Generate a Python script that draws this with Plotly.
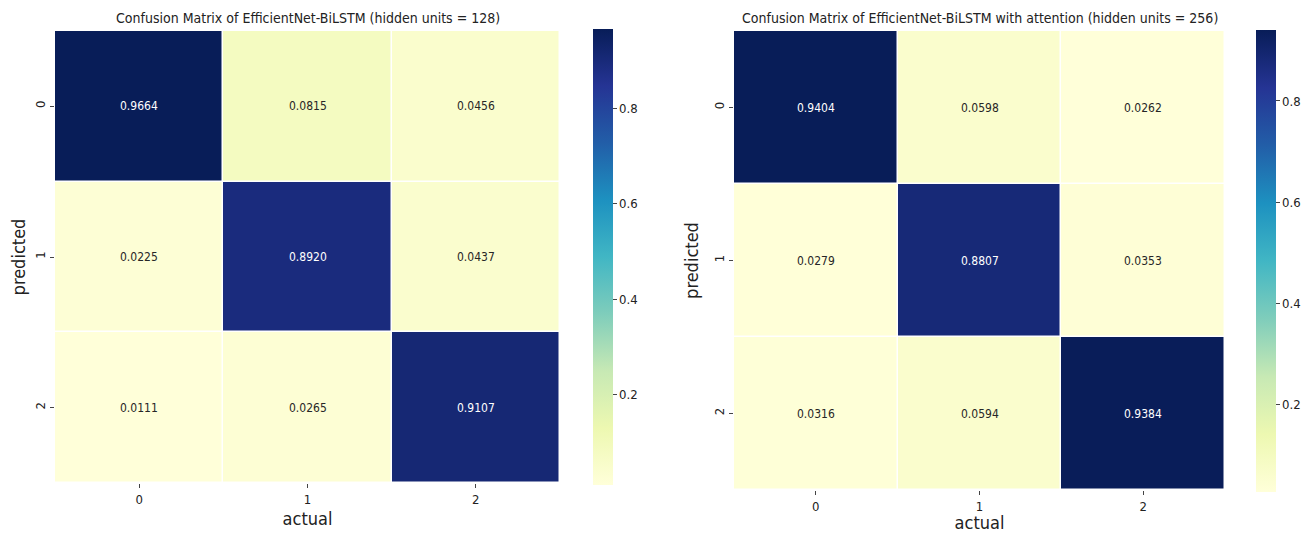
import plotly.graph_objects as go

labels = ["0", "1", "2"]
cm_left = [[0.9664, 0.0815, 0.0456],
           [0.0225, 0.8920, 0.0437],
           [0.0111, 0.0265, 0.9107]]
cm_right = [[0.9404, 0.0598, 0.0262],
            [0.0279, 0.8807, 0.0353],
            [0.0316, 0.0594, 0.9384]]
title_left = "Confusion Matrix of EfficientNet-BiLSTM (hidden units = 128)"
title_right = "Confusion Matrix of EfficientNet-BiLSTM with attention (hidden units = 256)"
cbar_ticks = [0.2, 0.4, 0.6, 0.8]

ylgnbu = ["#ffffd9", "#edf8b1", "#c7e9b4", "#7fcdbb", "#41b6c4",
          "#1d91c0", "#225ea8", "#253494", "#081d58"]
cscale = [[i / 8, c] for i, c in enumerate(ylgnbu)]

FONT = "DejaVu Sans Condensed, DejaVu Sans, sans-serif"
OFF = 8  # default page body margin
W, H = 1315 - 2 * OFF, 541 - 2 * OFF

fig = go.Figure()

def px_x(p):
    return (p - OFF) / W

def px_y(p):
    return 1 - (p - OFF) / H

panels = [
    dict(z=cm_left, title=title_left, x0=55, x1=560, y0=31, y1=483, cb=593, cby0=29, cby1=485),
    dict(z=cm_right, title=title_right, x0=734, x1=1225, y0=31, y1=490, cb=1256, cby0=30, cby1=492),
]

for i, p in enumerate(panels):
    ax = "" if i == 0 else str(i + 1)
    z = p["z"]
    zmin = min(min(r) for r in z)
    zmax = max(max(r) for r in z)
    fig.add_trace(go.Heatmap(
        z=z, x=labels, y=labels, colorscale=cscale, zmin=zmin, zmax=zmax,
        xgap=1.5, ygap=1.5,
        xaxis="x" + ax, yaxis="y" + ax,
        colorbar=dict(
            x=px_x(p["cb"]), xanchor="left", y=px_y(p["cby0"]), yanchor="top",
            xpad=0, ypad=0,
            len=(p["cby1"] - p["cby0"]) / H, lenmode="fraction", thickness=20,
            tickvals=cbar_ticks, ticks="outside", ticklen=4, outlinewidth=0,
            tickfont=dict(family=FONT, size=13, color="#222"),
        ),
        hoverinfo="z",
    ))
    xa = dict(domain=[px_x(p["x0"]), px_x(p["x1"])], anchor="y" + ax, automargin=False,
              title=dict(text="actual", font=dict(family=FONT, size=18, color="#222"), standoff=6),
              ticks="outside", ticklen=4, tickfont=dict(family=FONT, size=13, color="#222"),
              showgrid=False, zeroline=False, showline=False)
    ya = dict(domain=[px_y(p["y1"]), px_y(p["y0"])], anchor="x" + ax, automargin=False,
              autorange="reversed",
              title=dict(text="predicted", font=dict(family=FONT, size=18, color="#222"), standoff=8),
              ticks="outside", ticklen=4, tickangle=-90, tickfont=dict(family=FONT, size=13, color="#222"),
              showgrid=False, zeroline=False, showline=False)
    fig.update_layout(**{"xaxis" + ax: xa, "yaxis" + ax: ya})
    fig.add_annotation(text=p["title"], x=(px_x(p["x0"]) + px_x(p["x1"])) / 2, y=px_y(18),
                       xref="paper", yref="paper", showarrow=False, xanchor="center", yanchor="middle",
                       font=dict(family=FONT, size=14, color="#222"))
    for r, row in enumerate(z):
        for c, v in enumerate(row):
            frac = (v - zmin) / (zmax - zmin)
            col = "white" if frac > 0.5 else "#262626"
            fig.add_annotation(text=f"{v:.4f}", x=labels[c], y=labels[r],
                               xref="x" + ax, yref="y" + ax, showarrow=False,
                               font=dict(family=FONT, size=12, color=col))

fig.update_layout(width=W, height=H, margin=dict(l=0, r=0, t=0, b=0, autoexpand=False),
                  paper_bgcolor="white", plot_bgcolor="white", showlegend=False)
fig.write_html("out.html")
